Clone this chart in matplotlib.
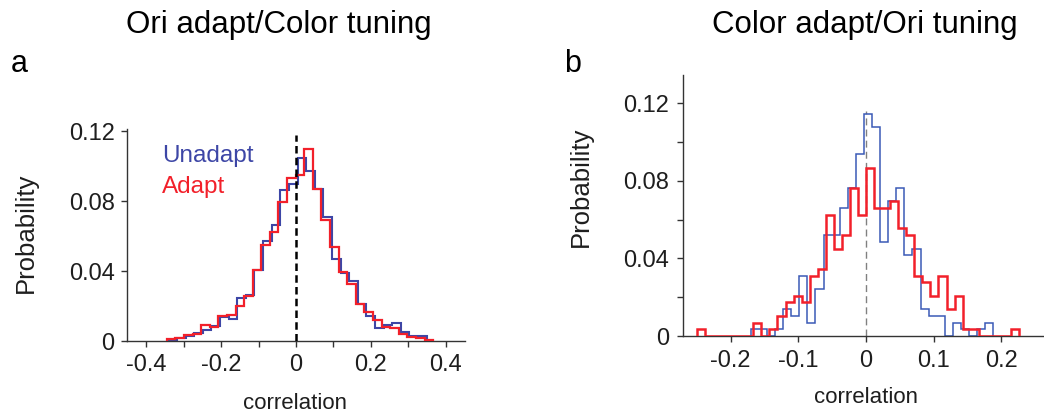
import numpy as np
import matplotlib
matplotlib.use("Agg")
import matplotlib.pyplot as plt
from matplotlib.ticker import FixedLocator

plt.rcParams['font.family'] = ['Liberation Sans', 'DejaVu Sans']

# ---------------- data ----------------
# Panel a: Ori adapt / Color tuning
a_red_range = (-0.3457, 0.367)
a_red_nbins = 31
a_red_prob = [0.0011, 0.0020, 0.0034, 0.0038, 0.0094, 0.0081, 0.0143, 0.0147,
              0.0203, 0.0256, 0.0407, 0.0552, 0.0621, 0.0797, 0.0935, 0.0950,
              0.1100, 0.0870, 0.0690, 0.0540, 0.0395, 0.0326, 0.0213, 0.0166,
              0.0119, 0.0081, 0.0072, 0.0038, 0.0024, 0.0019, 0.0008]
a_blue_range = (-0.3414, 0.3495)
a_blue_nbins = 30
a_blue_prob = [0.0006, 0.0019, 0.0030, 0.0043, 0.0062, 0.0087, 0.0137, 0.0128,
               0.0245, 0.0264, 0.0407, 0.0571, 0.0665, 0.0866, 0.0900, 0.1050,
               0.0975, 0.0870, 0.0710, 0.0470, 0.0390, 0.0345, 0.0213, 0.0143,
               0.0075, 0.0090, 0.0105, 0.0053, 0.0030, 0.0028]

# Panel b: Color adapt / Ori tuning
b_red_range = (-0.2496, 0.226)
b_red_nbins = 40
b_red_prob = [0.0035, 0, 0, 0, 0, 0, 0, 0.0069, 0, 0.0035,
              0.0104, 0.0173, 0.0208, 0.0173, 0.0312, 0.0347, 0.0624, 0.0451, 0.0520, 0.0763,
              0.0624, 0.0867, 0.0660, 0.0660, 0.0694, 0.0555, 0.0520, 0.0312, 0.0277, 0.0208,
              0.0312, 0.0139, 0.0208, 0.0035, 0.0035, 0, 0, 0, 0, 0.0035]
b_blue_range = (-0.170, 0.188)
b_blue_nbins = 30
b_blue_prob = [0.0035, 0.0035, 0, 0.0035, 0.0139, 0.0104, 0.0312, 0.0069, 0.0243, 0.0520,
               0.0520, 0.0660, 0.0764, 0.0937, 0.1146, 0.1076, 0.0486, 0.0694, 0.0764, 0.0417,
               0.0451, 0.0139, 0.0104, 0.0104, 0, 0.0069, 0.0035, 0, 0.0035, 0.0069]

a_xticks = [-0.4, -0.2, 0, 0.2, 0.4]
a_xticklabels = ['-0.4', '-0.2', '0', '0.2', '0.4']
a_xminor = [-0.3, -0.1, 0.1, 0.3]
a_yticks = [0, 0.04, 0.08, 0.12]
b_xticks = [-0.2, -0.1, 0, 0.1, 0.2]
b_xticklabels = ['-0.2', '-0.1', '0', '0.1', '0.2']
b_yticks = [0, 0.04, 0.08, 0.12]
b_yminor = [0.02, 0.06, 0.10]
yticklabels = ['0', '0.04', '0.08', '0.12']

title_a = 'Ori adapt/Color tuning'
title_b = 'Color adapt/Ori tuning'
legend_labels = ['Unadapt', 'Adapt']

# ---------------- style ----------------
RED = '#f2202a'
BLUE_A = '#3d46a6'
BLUE_B = '#3a5ab6'
TXT = '#1e1e1e'
SPINE = '#333333'

W, H = 1044, 415
fig = plt.figure(figsize=(W / 100, H / 100), dpi=100)


def fx(px):
    return px / W


def fy(py):
    return 1 - py / H


def style_axes(ax, pad):
    for s in ['top', 'right']:
        ax.spines[s].set_visible(False)
    for s in ['left', 'bottom']:
        ax.spines[s].set_color(SPINE)
        ax.spines[s].set_linewidth(1.0)
    ax.tick_params(which='both', direction='out', color=SPINE, width=1.0,
                   labelsize=17, labelcolor=TXT, pad=pad)
    ax.tick_params(which='major', length=4)
    ax.tick_params(which='minor', length=4)
    ax.patch.set_alpha(0)


# ---------- panel a ----------
axa = fig.add_axes([fx(127), fy(341), fx(465 - 127), (341 - 128.7) / H])
edges = np.linspace(a_blue_range[0], a_blue_range[1], a_blue_nbins + 1)
axa.stairs(a_blue_prob, edges, color=BLUE_A, lw=1.5, zorder=2)
edges = np.linspace(a_red_range[0], a_red_range[1], a_red_nbins + 1)
axa.stairs(a_red_prob, edges, color=RED, lw=1.6, zorder=3)
axa.plot([0, 0], [0, 0.118], color='black', lw=1.8, ls=(0, (3, 1.7)), zorder=4)
axa.set_xlim(-0.452, 0.452)
axa.set_ylim(0, 0.1215)
axa.set_xticks(a_xticks)
axa.set_xticklabels(a_xticklabels)
axa.xaxis.set_minor_locator(FixedLocator(a_xminor))
axa.set_yticks(a_yticks)
axa.set_yticklabels(yticklabels)
style_axes(axa, 5)

# ---------- panel b ----------
axb = fig.add_axes([fx(682.7), fy(336), fx(1044 - 682.7), (336 - 75) / H])
axb.plot([0, 0], [0, 0.116], color='#808080', lw=1.0, ls=(0, (5, 3)), zorder=1)
edges = np.linspace(b_blue_range[0], b_blue_range[1], b_blue_nbins + 1)
axb.stairs(b_blue_prob, edges, color=BLUE_B, lw=1.1, zorder=2)
edges = np.linspace(b_red_range[0], b_red_range[1], b_red_nbins + 1)
axb.stairs(b_red_prob, edges, color=RED, lw=1.8, zorder=3)
axb.set_xlim(-0.2707, 0.263)
axb.set_ylim(0, 0.1346)
axb.set_xticks(b_xticks)
axb.set_xticklabels(b_xticklabels)
axb.set_yticks(b_yticks)
axb.set_yticklabels(yticklabels)
axb.yaxis.set_minor_locator(FixedLocator(b_yminor))
style_axes(axb, 6)

# ---------- texts ----------
fig.text(fx(279), fy(33.3), title_a, ha='center', va='baseline', fontsize=22.5, color='black')
fig.text(fx(865.3), fy(33.3), title_b, ha='center', va='baseline', fontsize=22.5, color='black')
fig.text(fx(11), fy(72), 'a', ha='left', va='baseline', fontsize=22, color='black')
fig.text(fx(564), fy(72), 'b', ha='left', va='baseline', fontsize=22, color='black')

fig.text(fx(25.8), fy(233.3), 'Probability', rotation=90, ha='center', va='center',
         fontsize=18.5, color=TXT)
fig.text(fx(580.7), fy(186.7), 'Probability', rotation=90, ha='center', va='center',
         fontsize=18.5, color=TXT)
fig.text(fx(295), fy(409.3), 'correlation', ha='center', va='baseline', fontsize=16, color=TXT)
fig.text(fx(865.7), fy(403), 'correlation', ha='center', va='baseline', fontsize=16, color=TXT)

fig.text(fx(161.7), fy(162.3), legend_labels[0], ha='left', va='baseline', fontsize=17.5, color=BLUE_A)
fig.text(fx(161.7), fy(192.5), legend_labels[1], ha='left', va='baseline', fontsize=17.5, color=RED)

fig.savefig('out.png', dpi=100)
